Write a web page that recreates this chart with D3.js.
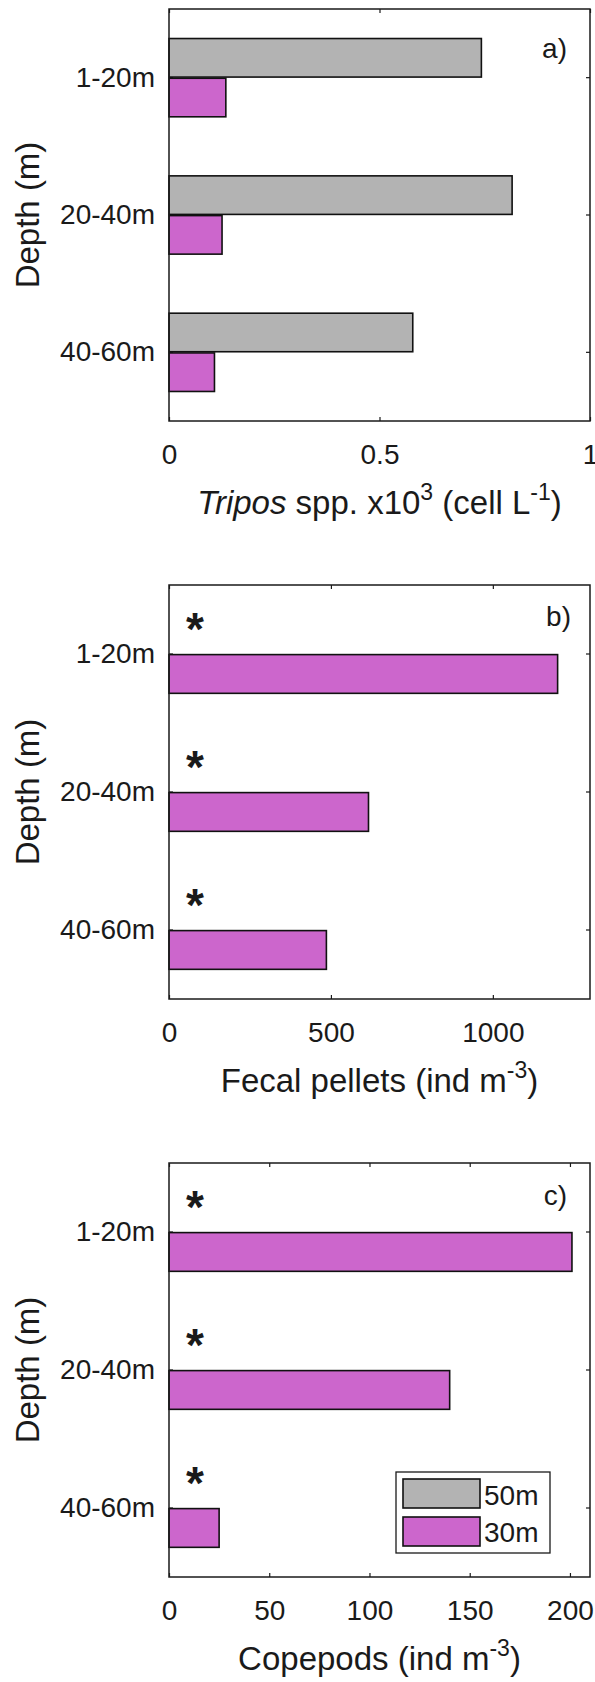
<!DOCTYPE html>
<html><head><meta charset="utf-8">
<script src="https://cdn.jsdelivr.net/npm/d3@7"></script>
<style>
body{margin:0;background:#fff}
svg{display:block}
text{font-family:"Liberation Sans",Arial,sans-serif;fill:#1a1a1a}
</style>
</head><body>
<svg id="chart" width="595" height="1682"></svg>
<script>
// ---------- data ----------
const depths = ["1-20m", "20-40m", "40-60m"];
const seriesNames = ["50m", "30m"];
const tripos50 = [0.742, 0.815, 0.579];
const tripos30 = [0.135, 0.126, 0.108];
const fecal50 = [null, null, null];
const fecal30 = [1200, 616, 486];
const cope50 = [null, null, null];
const cope30 = [201, 140, 25];
const triposTicks = [0, 0.5, 1];
const fecalTicks = [0, 500, 1000];
const copeTicks = [0, 50, 100, 150, 200];
const fecalSig = [true, true, true];
const copeSig = [true, true, true];
const colors = {"50m": "#b3b3b3", "30m": "#cc66cc"};

// ---------- layout ----------
const svg = d3.select("#chart");
const L = 169, R = 590;
const tickFont = 28, titleFont = 33;

const panels = [
  {top: 9, bottom: 421, xmax: 1, ticks: triposTicks, v50: tripos50, v30: tripos30, sig: null,
   letter: "a)", letterX: 567, letterDy: 49,
   title: [{t: "Tripos", it: true}, {t: " spp. x10"}, {t: "3", sup: true}, {t: " (cell L"}, {t: "-1", sup: true}, {t: ")"}]},
  {top: 585, bottom: 999, xmax: 1300, ticks: fecalTicks, v50: fecal50, v30: fecal30, sig: fecalSig,
   letter: "b)", letterX: 571, letterDy: 41,
   title: [{t: "Fecal pellets (ind m"}, {t: "-3", sup: true}, {t: ")"}]},
  {top: 1163, bottom: 1577, xmax: 210, ticks: copeTicks, v50: cope50, v30: cope30, sig: copeSig,
   letter: "c)", letterX: 567, letterDy: 42, legend: true,
   title: [{t: "Copepods (ind m"}, {t: "-3", sup: true}, {t: ")"}]}
];

panels.forEach(p => {
  const g = svg.append("g");
  const x = d3.scaleLinear().domain([0, p.xmax]).range([L, R]);
  const y = d3.scaleBand().domain(depths).range([p.top, p.bottom]).padding(0);
  const gw = y.bandwidth() * 0.57;
  const inner = d3.scaleBand().domain(seriesNames).range([-gw / 2, gw / 2]).paddingInner(0.03);

  // axes (ticks inward)
  const fmt = d3.format("~g");
  const xb = g.append("g").attr("transform", `translate(0,${p.bottom})`)
    .call(d3.axisBottom(x).tickValues(p.ticks).tickFormat(fmt).tickSizeInner(-4).tickSizeOuter(0).tickPadding(23));
  const xt = g.append("g").attr("transform", `translate(0,${p.top})`)
    .call(d3.axisTop(x).tickValues(p.ticks).tickFormat("").tickSizeInner(-4).tickSizeOuter(0));
  const yl = g.append("g").attr("transform", `translate(${L},0)`)
    .call(d3.axisLeft(y).tickSizeInner(-4).tickSizeOuter(0).tickPadding(14));
  const yr = g.append("g").attr("transform", `translate(${R},0)`)
    .call(d3.axisRight(y).tickFormat("").tickSizeInner(-4).tickSizeOuter(0));
  [xb, xt, yl, yr].forEach(a => {
    a.select(".domain").remove();
    a.selectAll(".tick line").attr("stroke", "#1a1a1a").attr("stroke-width", 1.2);
    a.selectAll(".tick text").style("font-size", tickFont + "px").attr("fill", "#1a1a1a");
  });

  // bars
  const rows = [];
  depths.forEach((d, i) => {
    if (p.v50[i] != null) rows.push({d, s: "50m", v: p.v50[i]});
    if (p.v30[i] != null) rows.push({d, s: "30m", v: p.v30[i]});
  });
  g.selectAll("rect.bar").data(rows).join("rect").attr("class", "bar")
    .attr("x", x(0))
    .attr("y", r => y(r.d) + y.bandwidth() / 2 + inner(r.s))
    .attr("width", r => x(r.v) - x(0))
    .attr("height", inner.bandwidth())
    .attr("fill", r => colors[r.s])
    .attr("stroke", "#111").attr("stroke-width", 1.6);

  // box
  g.append("rect").attr("x", L).attr("y", p.top).attr("width", R - L).attr("height", p.bottom - p.top)
    .attr("fill", "none").attr("stroke", "#1a1a1a").attr("stroke-width", 1.5);

  // significance asterisks
  if (p.sig) {
    g.selectAll("text.sig").data(depths.filter((d, i) => p.sig[i])).join("text").attr("class", "sig")
      .attr("x", L + 26)
      .attr("y", d => y(d) + y.bandwidth() / 2 - 35 + 26)
      .attr("text-anchor", "middle")
      .style("font-size", "46px").style("font-weight", "bold")
      .text("*");
  }

  // panel letter
  g.append("text").attr("x", p.letterX).attr("y", p.top + p.letterDy)
    .attr("text-anchor", "end").style("font-size", "28px").text(p.letter);

  // x title
  const tt = g.append("text").attr("x", (L + R) / 2).attr("y", p.bottom + 93)
    .attr("text-anchor", "middle").style("font-size", titleFont + "px");
  let raised = false;
  p.title.forEach(s => {
    const ts = tt.append("tspan").text(s.t);
    if (s.it) ts.style("font-style", "italic");
    if (s.sup) { ts.style("font-size", "23px").attr("dy", -14); raised = true; }
    else if (raised) { ts.attr("dy", 14); raised = false; }
  });

  // y title
  g.append("text").attr("transform", `translate(39,${(p.top + p.bottom) / 2}) rotate(-90)`)
    .attr("text-anchor", "middle").style("font-size", titleFont + "px").text("Depth (m)");

  // legend
  if (p.legend) {
    const lg = g.append("g");
    lg.append("rect").attr("x", 396).attr("y", 1472).attr("width", 154).attr("height", 81)
      .attr("fill", "#fff").attr("stroke", "#1a1a1a").attr("stroke-width", 1.3);
    seriesNames.forEach((s, i) => {
      lg.append("rect").attr("x", 403).attr("y", 1479 + i * 38).attr("width", 77).attr("height", 29)
        .attr("fill", colors[s]).attr("stroke", "#111").attr("stroke-width", 1.6);
      lg.append("text").attr("x", 484).attr("y", 1505 + i * 37).style("font-size", "28px").text(s);
    });
  }
});
</script>
</body></html>
